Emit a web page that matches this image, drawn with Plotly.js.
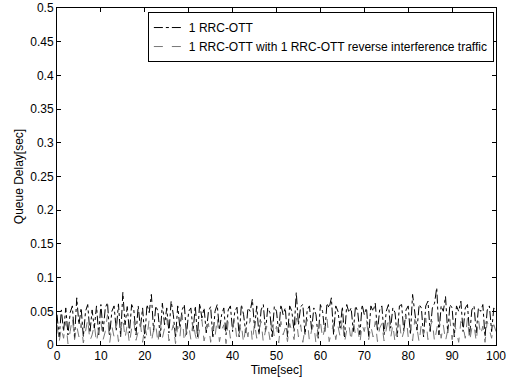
<!DOCTYPE html>
<html><head><meta charset="utf-8">
<script src="https://cdn.plot.ly/plotly-3.0.1.min.js"></script>
<style>html,body{margin:0;padding:0;background:#fff}#c{width:512px;height:383px}</style>
</head><body><div id="c"></div>
<script>
const seriesNames = ["1 RRC-OTT", "1 RRC-OTT with 1 RRC-OTT reverse interference traffic"];
const xTicks = [0,10,20,30,40,50,60,70,80,90,100];
const yTicks = [0,0.05,0.1,0.15,0.2,0.25,0.3,0.35,0.4,0.45,0.5];
const yTickText = ["0","0.05","0.1","0.15","0.2","0.25","0.3","0.35","0.4","0.45","0.5"];
const sampleStart = 0, sampleStep = 0.5;
const delayOtt = [
0.045,0.012,0.052,0.02,0.055,0.015,0.048,0.058,0.01,0.07,
0.03,0.055,0.012,0.05,0.06,0.018,0.052,0.025,0.058,0.015,
0.06,0.02,0.055,0.063,0.015,0.05,0.058,0.022,0.061,0.012,
0.078,0.03,0.057,0.018,0.06,0.052,0.015,0.058,0.025,0.055,
0.01,0.06,0.048,0.075,0.02,0.058,0.05,0.012,0.062,0.03,
0.055,0.018,0.065,0.045,0.01,0.058,0.025,0.052,0.06,0.015,
0.05,0.055,0.02,0.058,0.012,0.062,0.04,0.055,0.018,0.05,
0.057,0.01,0.05,0.06,0.022,0.045,0.055,0.015,0.052,0.058,
0.02,0.05,0.056,0.012,0.06,0.045,0.018,0.055,0.05,0.068,
0.025,0.058,0.015,0.052,0.06,0.02,0.055,0.048,0.012,0.057,
0.05,0.018,0.06,0.045,0.055,0.012,0.058,0.05,0.02,0.078,
0.03,0.057,0.06,0.015,0.052,0.058,0.022,0.055,0.045,0.01,
0.06,0.05,0.018,0.062,0.055,0.07,0.015,0.058,0.05,0.025,
0.057,0.012,0.06,0.048,0.055,0.02,0.058,0.05,0.015,0.06,
0.045,0.055,0.012,0.058,0.05,0.062,0.02,0.052,0.058,0.015,
0.05,0.06,0.025,0.055,0.048,0.012,0.058,0.06,0.02,0.052,
0.058,0.015,0.075,0.05,0.022,0.06,0.055,0.012,0.058,0.065,
0.02,0.055,0.062,0.085,0.015,0.058,0.05,0.072,0.018,0.06,
0.055,0.012,0.058,0.05,0.065,0.02,0.055,0.06,0.015,0.052,
0.058,0.018,0.055,0.05,0.06,0.012,0.052,0.058,0.02,0.055,0.05];
const delayOttReverse = [
0.03,0.005,0.025,0.01,0.035,0.002,0.02,0.04,0.008,0.028,
0.012,0.032,0.003,0.022,0.038,0.006,0.015,0.03,0.004,0.025,
0.035,0.008,0.02,0.045,0.003,0.028,0.012,0.033,0.005,0.022,
0.04,0.01,0.03,0.002,0.025,0.036,0.007,0.02,0.032,0.004,
0.028,0.012,0.038,0.005,0.022,0.03,0.003,0.035,0.01,0.025,
0.04,0.006,0.02,0.03,0.002,0.028,0.012,0.045,0.005,0.022,
0.03,0.008,0.035,0.015,0.003,0.025,0.038,0.006,0.02,0.032,
0.004,0.028,0.012,0.04,0.005,0.022,0.03,0.002,0.035,0.01,
0.025,0.038,0.006,0.02,0.03,0.003,0.028,0.012,0.04,0.005,
0.032,0.01,0.025,0.035,0.004,0.022,0.03,0.008,0.038,0.012,
0.028,0.003,0.035,0.015,0.025,0.005,0.032,0.02,0.008,0.04,
0.012,0.03,0.004,0.025,0.038,0.006,0.022,0.03,0.002,0.028,
0.035,0.01,0.025,0.04,0.005,0.02,0.032,0.008,0.028,0.012,
0.038,0.004,0.022,0.03,0.006,0.035,0.015,0.025,0.003,0.03,
0.02,0.038,0.008,0.028,0.012,0.035,0.005,0.025,0.032,0.006,
0.022,0.04,0.01,0.03,0.004,0.028,0.035,0.008,0.02,0.045,
0.012,0.03,0.006,0.038,0.025,0.004,0.032,0.015,0.04,0.008,
0.028,0.035,0.005,0.022,0.042,0.01,0.03,0.006,0.025,0.038,
0.008,0.032,0.02,0.004,0.035,0.028,0.01,0.04,0.006,0.025,
0.03,0.005,0.038,0.015,0.028,0.004,0.035,0.022,0.01,0.03,0.02];

const font = {family: "Liberation Sans, Arial, sans-serif", size: 12, color: "#000"};
const traces = [
  {type: "scatter", mode: "lines", name: seriesNames[0], x0: sampleStart, dx: sampleStep, y: delayOtt,
   line: {color: "#000", width: 1, dash: "dashdot"}},
  {type: "scatter", mode: "lines", name: seriesNames[1], x0: sampleStart, dx: sampleStep, y: delayOttReverse,
   line: {color: "#777", width: 1, dash: "dash"}}
];
const axisCommon = {showline: true, mirror: "ticks", linecolor: "#000", linewidth: 1, ticks: "inside",
  ticklen: 4, tickcolor: "#000", showgrid: false, zeroline: false, tickfont: font};
const layout = {
  width: 512, height: 383, paper_bgcolor: "#fff", plot_bgcolor: "#fff", font: font,
  margin: {l: 57, r: 16, t: 8, b: 38},
  xaxis: Object.assign({}, axisCommon, {range: [0, 100], tickvals: xTicks, ticktext: xTicks.map(String),
    title: {text: "Time[sec]", font: font, standoff: 3}}),
  yaxis: Object.assign({}, axisCommon, {range: [0, 0.5], tickvals: yTicks, ticktext: yTickText,
    title: {text: "Queue Delay[sec]", font: font, standoff: 4}}),
  showlegend: true,
  legend: {x: 0.207, y: 0.988, xanchor: "left", yanchor: "top", bgcolor: "#fff", bordercolor: "#000",
    borderwidth: 1, font: font, itemwidth: 30, tracegroupgap: 0}
};
Plotly.newPlot("c", traces, layout, {staticPlot: true, displayModeBar: false});
</script></body></html>
